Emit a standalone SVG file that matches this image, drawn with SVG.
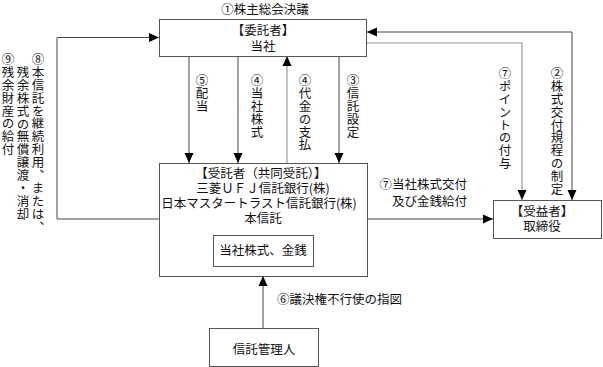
<svg xmlns="http://www.w3.org/2000/svg" width="603" height="367" viewBox="0 0 603 367">
<defs>
<style>
text{font-family:"Noto Sans CJK JP","Noto Sans CJK SC",sans-serif;font-size:12.5px;fill:#111}
.c{text-anchor:middle}
.e{text-anchor:end}
.v{writing-mode:vertical-rl;text-anchor:start;letter-spacing:0.4px}
.t{font-size:12px}
.box{fill:#fff;stroke:#555;stroke-width:1}
.ln{fill:none;stroke:#444;stroke-width:1}
.lg{fill:none;stroke:#999;stroke-width:1.2}
</style>
<marker id="ah" viewBox="0 0 10 10" refX="10" refY="5" markerWidth="10" markerHeight="10" markerUnits="userSpaceOnUse" orient="auto">
<path d="M0,0.5 L10,5 L0,9.5 Z" fill="#000"/>
</marker>
</defs>
<rect width="603" height="367" fill="#fff"/>
<g id="connectors">
<path class="ln" d="M189,56 V163" marker-end="url(#ah)"/>
<path class="ln" d="M238,56 V163" marker-end="url(#ah)"/>
<path class="lg" d="M287,163 V56" marker-end="url(#ah)"/>
<path class="ln" d="M339,56 V163" marker-end="url(#ah)"/>
<path class="ln" d="M159,219 H57 V37.5 H159" marker-end="url(#ah)"/>
<path class="lg" d="M367,43 H522 V200" marker-end="url(#ah)"/>
<path class="ln" d="M572,60 V200" marker-end="url(#ah)"/>
<path class="ln" d="M572,60 V32 H367" marker-end="url(#ah)"/>
<path class="ln" d="M367,219 H493" marker-end="url(#ah)"/>
<path class="ln" d="M263,328 V276" marker-end="url(#ah)"/>
<text class="c" x="265" y="14">①株主総会決議</text>
<text class="v" x="202" y="74">⑤配当</text>
<text class="v" x="257" y="74">④当社株式</text>
<text class="v" x="305" y="74">④代金の支払</text>
<text class="v" x="353" y="74">③信託設定</text>
<text class="v" x="505" y="67">⑦ポイントの付与</text>
<text class="v" x="557" y="67">②株式交付規程の制定</text>
<text class="e" x="467" y="189">⑦当社株式交付</text>
<text class="e" x="467" y="206">及び金銭給付</text>
<text x="277" y="304">⑥議決権不行使の指図</text>
<text class="v" x="38" y="53">⑧本信託を継続利用、または、</text>
<text class="v" x="23" y="66">残余株式の無償譲渡・消却</text>
<text class="v" x="8" y="53">⑨残余財産の給付</text>
</g>
<g id="itakusha">
<rect class="box" x="159.5" y="19.5" width="207" height="37"/>
<text class="c" x="263" y="35">【委託者】</text>
<text class="c" x="263" y="51">当社</text>
</g>
<g id="jutakusha">
<rect class="box" x="159.5" y="163.5" width="208" height="113"/>
<text class="c" x="261" y="178">【受託者（共同受託）】</text>
<text class="c" x="263" y="193">三菱ＵＦＪ信託銀行(株)</text>
<text class="c" x="259" y="208">日本マスタートラスト信託銀行(株)</text>
<text class="c" x="263" y="223">本信託</text>
</g>
<g id="zaisan">
<rect class="box" x="213.5" y="235.5" width="100" height="31"/>
<text class="c" x="263" y="255">当社株式、金銭</text>
</g>
<g id="jueki">
<rect class="box" x="493.5" y="200.5" width="108" height="38"/>
<text class="c" x="542" y="216">【受益者】</text>
<text class="c" x="542" y="231">取締役</text>
</g>
<g id="kanrinin">
<rect class="box" x="209.5" y="328.5" width="109" height="38"/>
<text class="c" x="264" y="354">信託管理人</text>
</g>
</svg>
